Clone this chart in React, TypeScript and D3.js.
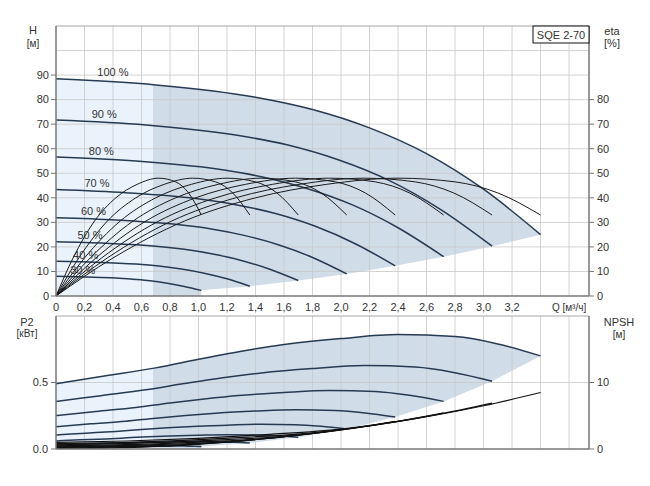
import React from "react";
import * as d3 from "d3";

type Pt = [number, number];

// ---- axis ticks ----
const qTickValues = [0, 0.2, 0.4, 0.6, 0.8, 1.0, 1.2, 1.4, 1.6, 1.8, 2.0, 2.2, 2.4, 2.6, 2.8, 3.0, 3.2];
const qTickLabels = ["0", "0,2", "0,4", "0,6", "0,8", "1,0", "1,2", "1,4", "1,6", "1,8", "2,0", "2,2", "2,4", "2,6", "2,8", "3,0", "3,2"];
const qGrid = [0.2, 0.4, 0.6, 0.8, 1.0, 1.2, 1.4, 1.6, 1.8, 2.0, 2.2, 2.4, 2.6, 2.8, 3.0, 3.2, 3.4, 3.6];
const hTicks = [0, 10, 20, 30, 40, 50, 60, 70, 80, 90];
const hGrid = [10, 20, 30, 40, 50, 60, 70, 80, 90, 100];
const etaTicks = [0, 10, 20, 30, 40, 50, 60, 70, 80];
const p2Ticks = [0, 0.5];
const p2TickLabels = ["0.0", "0.5"];
const npshTicks = [0, 10];

// ---- speed curves (30 % ... 100 %) ----
const speedLabels = ["30 %", "40 %", "50 %", "60 %", "70 %", "80 %", "90 %", "100 %"];
const labelQ = [0.1, 0.12, 0.15, 0.175, 0.2, 0.23, 0.25, 0.29];
const shadeSplitQ = 0.68;

const headCurves: Pt[][] = [
  [[0, 8.0], [0.21, 7.7], [0.42, 7.3], [0.54, 6.8], [0.66, 6.2], [0.78, 5.2], [0.9, 3.9], [1.02, 2.3]],
  [[0, 14.2], [0.28, 13.8], [0.56, 13.0], [0.72, 12.2], [0.88, 11.0], [1.04, 9.3], [1.2, 7.0], [1.36, 4.0]],
  [[0, 22.1], [0.35, 21.5], [0.7, 20.3], [0.9, 19.0], [1.1, 17.1], [1.3, 14.5], [1.5, 10.9], [1.7, 6.3]],
  [[0, 31.9], [0.42, 31.0], [0.84, 29.2], [1.08, 27.4], [1.32, 24.7], [1.56, 20.9], [1.8, 15.7], [2.04, 9.0]],
  [[0, 43.4], [0.49, 42.1], [0.98, 39.7], [1.26, 37.2], [1.54, 33.6], [1.82, 28.4], [2.1, 21.3], [2.38, 12.3]],
  [[0, 56.6], [0.56, 55.0], [1.12, 51.8], [1.44, 48.6], [1.76, 43.8], [2.08, 37.1], [2.4, 27.8], [2.72, 16.0]],
  [[0, 71.7], [0.63, 69.7], [1.26, 65.6], [1.62, 61.6], [1.98, 55.5], [2.34, 47.0], [2.7, 35.2], [3.06, 20.3]],
  [[0, 88.5], [0.7, 86.0], [1.4, 81.0], [1.8, 76.0], [2.2, 68.5], [2.6, 58.0], [3.0, 43.5], [3.4, 25.0]],
];

const etaValues = [0, 15.5, 30.5, 40, 45.5, 48, 46.5, 42, 33];
const etaQ: number[][] = [
  [0, 0.12, 0.27, 0.42, 0.57, 0.72, 0.84, 0.93, 1.02],
  [0, 0.16, 0.36, 0.56, 0.76, 0.96, 1.12, 1.24, 1.36],
  [0, 0.2, 0.45, 0.7, 0.95, 1.2, 1.4, 1.55, 1.7],
  [0, 0.24, 0.54, 0.84, 1.14, 1.44, 1.68, 1.86, 2.04],
  [0, 0.28, 0.63, 0.98, 1.33, 1.68, 1.96, 2.17, 2.38],
  [0, 0.32, 0.72, 1.12, 1.52, 1.92, 2.24, 2.48, 2.72],
  [0, 0.36, 0.81, 1.26, 1.71, 2.16, 2.52, 2.79, 3.06],
  [0, 0.4, 0.9, 1.4, 1.9, 2.4, 2.8, 3.1, 3.4],
];

const p2Curves: Pt[][] = [
  [[0, 0.013], [0.105, 0.015], [0.21, 0.016], [0.3, 0.018], [0.39, 0.02], [0.48, 0.021], [0.6, 0.022], [0.72, 0.023], [0.84, 0.023], [0.93, 0.021], [1.02, 0.019]],
  [[0, 0.031], [0.14, 0.035], [0.28, 0.039], [0.4, 0.043], [0.52, 0.047], [0.64, 0.05], [0.8, 0.053], [0.96, 0.055], [1.12, 0.054], [1.24, 0.051], [1.36, 0.045]],
  [[0, 0.061], [0.175, 0.069], [0.35, 0.076], [0.5, 0.084], [0.65, 0.092], [0.8, 0.098], [1.0, 0.104], [1.2, 0.108], [1.4, 0.106], [1.55, 0.099], [1.7, 0.088]],
  [[0, 0.106], [0.21, 0.119], [0.42, 0.132], [0.6, 0.146], [0.78, 0.159], [0.96, 0.17], [1.2, 0.179], [1.44, 0.186], [1.68, 0.183], [1.86, 0.171], [2.04, 0.151]],
  [[0, 0.168], [0.245, 0.189], [0.49, 0.209], [0.7, 0.232], [0.91, 0.252], [1.12, 0.269], [1.4, 0.285], [1.68, 0.295], [1.96, 0.29], [2.17, 0.271], [2.38, 0.24]],
  [[0, 0.251], [0.28, 0.282], [0.56, 0.312], [0.8, 0.346], [1.04, 0.376], [1.28, 0.402], [1.6, 0.425], [1.92, 0.44], [2.24, 0.433], [2.48, 0.404], [2.72, 0.358]],
  [[0, 0.357], [0.315, 0.401], [0.63, 0.445], [0.9, 0.492], [1.17, 0.536], [1.44, 0.572], [1.8, 0.605], [2.16, 0.627], [2.52, 0.616], [2.79, 0.576], [3.06, 0.51]],
  [[0, 0.49], [0.35, 0.55], [0.7, 0.61], [1.0, 0.675], [1.3, 0.735], [1.6, 0.785], [2.0, 0.83], [2.4, 0.86], [2.8, 0.845], [3.1, 0.79], [3.4, 0.7]],
];

const npshCurves: Pt[][] = [
  [[0, 0.09], [0.15, 0.11], [0.3, 0.14], [0.45, 0.2], [0.6, 0.27], [0.75, 0.41], [0.9, 0.59], [1.02, 0.77]],
  [[0, 0.16], [0.2, 0.19], [0.4, 0.26], [0.6, 0.35], [0.8, 0.48], [1.0, 0.72], [1.2, 1.04], [1.36, 1.36]],
  [[0, 0.25], [0.25, 0.3], [0.5, 0.4], [0.75, 0.55], [1.0, 0.75], [1.25, 1.13], [1.5, 1.63], [1.7, 2.13]],
  [[0, 0.36], [0.3, 0.43], [0.6, 0.58], [0.9, 0.79], [1.2, 1.08], [1.5, 1.62], [1.8, 2.34], [2.04, 3.06]],
  [[0, 0.49], [0.35, 0.59], [0.7, 0.78], [1.05, 1.08], [1.4, 1.47], [1.75, 2.21], [2.1, 3.19], [2.38, 4.17]],
  [[0, 0.64], [0.4, 0.77], [0.8, 1.02], [1.2, 1.41], [1.6, 1.92], [2.0, 2.88], [2.4, 4.16], [2.72, 5.44]],
  [[0, 0.81], [0.45, 0.97], [0.9, 1.3], [1.35, 1.78], [1.8, 2.43], [2.25, 3.65], [2.7, 5.27], [3.06, 6.89]],
  [[0, 1.0], [0.5, 1.2], [1.0, 1.6], [1.5, 2.2], [2.0, 3.0], [2.5, 4.5], [3.0, 6.5], [3.4, 8.5]],
];

const FONT = "'Liberation Sans', Arial, sans-serif";
const TXT = "#333";

export default function App() {
  const x = d3.scaleLinear().domain([0, 3.74]).range([56, 589]);
  const yH = d3.scaleLinear().domain([0, 110]).range([296, 26]);
  const yP = d3.scaleLinear().domain([0, 1]).range([449, 316]);
  const yN = d3.scaleLinear().domain([0, 20]).range([449, 316]);

  const lineH = d3.line<Pt>().x((d) => x(d[0])).y((d) => yH(d[1])).curve(d3.curveMonotoneX);
  const lineP = d3.line<Pt>().x((d) => x(d[0])).y((d) => yP(d[1])).curve(d3.curveMonotoneX);
  const lineN = d3.line<Pt>().x((d) => x(d[0])).y((d) => yN(d[1])).curve(d3.curveMonotoneX);

  const areaPath = (curves: Pt[][], line: d3.Line<Pt>, y: d3.ScaleLinear<number, number>) => {
    const top = curves[curves.length - 1];
    let p = line(top) || "";
    const ends = curves.map((c) => c[c.length - 1]).reverse();
    ends.forEach((e) => {
      p += `L${x(e[0])},${y(e[1])}`;
    });
    const firstEnd = curves[0][curves[0].length - 1];
    p += `L${x(firstEnd[0])},${y(0)}L${x(0)},${y(0)}Z`;
    return p;
  };

  const topArea = areaPath(headCurves, lineH, yH);
  const botArea = areaPath(p2Curves, lineP, yP);

  const xL = x(0);
  const xR = x(3.74);
  const xS = x(shadeSplitQ);

  return (
    <svg width={650} height={486} style={{ position: "absolute", left: 0, top: 0, background: "#fff" }} fontFamily={FONT}>
      <defs>
        <clipPath id="clipLight">
          <rect x={xL} y={0} width={xS - xL} height={486} />
        </clipPath>
        <clipPath id="clipDark">
          <rect x={xS} y={0} width={xR - xS} height={486} />
        </clipPath>
      </defs>

      {/* ===== TOP CHART ===== */}
      <path d={topArea} fill="#eaf3fc" clipPath="url(#clipLight)" />
      <path d={topArea} fill="#d1dce9" clipPath="url(#clipDark)" />
      {qGrid.map((q) => (
        <line key={"vg" + q} x1={x(q)} x2={x(q)} y1={yH(110)} y2={yH(0)} stroke="#c8c8c8" strokeOpacity={0.8} />
      ))}
      {hGrid.map((h) => (
        <line key={"hg" + h} x1={xL} x2={xR} y1={yH(h)} y2={yH(h)} stroke="#c8c8c8" strokeOpacity={0.8} />
      ))}
      <line x1={xL} x2={xR} y1={yH(110)} y2={yH(110)} stroke="#a8a8a8" />

      {headCurves.map((c, i) => (
        <path key={"h" + i} d={lineH(c) || ""} fill="none" stroke="#263a52" strokeWidth={1.5} />
      ))}
      {etaQ.map((qs, i) => (
        <path
          key={"e" + i}
          d={lineH(qs.map((q, j) => [q, etaValues[j]] as Pt)) || ""}
          fill="none"
          stroke="#1a1a1a"
          strokeWidth={1}
        />
      ))}
      {speedLabels.map((s, i) => (
        <text key={"l" + s} x={x(labelQ[i])} y={yH(headCurves[i][0][1]) - 2.5} fontSize={11} fill={TXT}>
          {s}
        </text>
      ))}

      {/* axes top */}
      <line x1={xL} x2={xL} y1={yH(110)} y2={yH(0)} stroke="#777" strokeWidth={1.5} />
      <line x1={xR} x2={xR} y1={yH(110)} y2={yH(0)} stroke="#777" strokeWidth={1.5} />
      <line x1={xL} x2={xR} y1={yH(0)} y2={yH(0)} stroke="#777" strokeWidth={1.5} />
      {hTicks.map((h) => (
        <g key={"ht" + h}>
          <line x1={xL - 5} x2={xL} y1={yH(h)} y2={yH(h)} stroke="#777" />
          <text x={xL - 7} y={yH(h)} dy="0.35em" textAnchor="end" fontSize={11} fill={TXT}>
            {h}
          </text>
        </g>
      ))}
      {etaTicks.map((h) => (
        <g key={"et" + h}>
          <line x1={xR} x2={xR + 5} y1={yH(h)} y2={yH(h)} stroke="#777" />
          <text x={xR + 8} y={yH(h)} dy="0.35em" textAnchor="start" fontSize={11} fill={TXT}>
            {h}
          </text>
        </g>
      ))}
      {qTickValues.map((q, i) => (
        <text key={"qt" + q} x={x(q)} y={307} dy="0.35em" textAnchor="middle" fontSize={11} fill={TXT}>
          {qTickLabels[i]}
        </text>
      ))}
      <text x={x(3.6)} y={307} dy="0.35em" textAnchor="middle" fontSize={10} fill={TXT}>
        Q [м³/ч]
      </text>
      <text x={33} y={34} textAnchor="middle" fontSize={11} fill={TXT}>H</text>
      <text x={33} y={47} textAnchor="middle" fontSize={10} fill={TXT}>[м]</text>
      <text x={612} y={35} textAnchor="middle" fontSize={11} fill={TXT}>eta</text>
      <text x={612} y={47} textAnchor="middle" fontSize={11} fill={TXT}>[%]</text>

      <rect x={533} y={26} width={xR - 533} height={17} fill="#fff" stroke="#111" strokeWidth={1} />
      <text x={(533 + xR) / 2} y={38.5} textAnchor="middle" fontSize={11} fill={TXT}>SQE 2-70</text>

      {/* ===== BOTTOM CHART ===== */}
      <path d={botArea} fill="#eaf3fc" clipPath="url(#clipLight)" />
      <path d={botArea} fill="#d1dce9" clipPath="url(#clipDark)" />
      {qGrid.map((q) => (
        <line key={"vg2" + q} x1={x(q)} x2={x(q)} y1={yP(1)} y2={yP(0)} stroke="#c8c8c8" strokeOpacity={0.8} />
      ))}
      <line x1={xL} x2={xR} y1={yP(0.5)} y2={yP(0.5)} stroke="#c8c8c8" strokeOpacity={0.8} />
      <line x1={xL} x2={xR} y1={yP(1)} y2={yP(1)} stroke="#a8a8a8" />

      {p2Curves.map((c, i) => (
        <path key={"p" + i} d={lineP(c) || ""} fill="none" stroke="#263a52" strokeWidth={1.5} />
      ))}
      {npshCurves.map((c, i) => (
        <path key={"n" + i} d={lineN(c) || ""} fill="none" stroke="#111" strokeWidth={1.2} />
      ))}

      <line x1={xL} x2={xL} y1={yP(1)} y2={yP(0)} stroke="#777" strokeWidth={1.5} />
      <line x1={xR} x2={xR} y1={yP(1)} y2={yP(0)} stroke="#777" strokeWidth={1.5} />
      <line x1={xL} x2={xR} y1={yP(0)} y2={yP(0)} stroke="#777" strokeWidth={1.5} />
      {p2Ticks.map((p, i) => (
        <g key={"pt" + p}>
          <line x1={xL - 5} x2={xL} y1={yP(p)} y2={yP(p)} stroke="#777" />
          <text x={xL - 8} y={yP(p)} dy="0.35em" textAnchor="end" fontSize={11} fill={TXT}>
            {p2TickLabels[i]}
          </text>
        </g>
      ))}
      {npshTicks.map((n) => (
        <g key={"nt" + n}>
          <line x1={xR} x2={xR + 5} y1={yN(n)} y2={yN(n)} stroke="#777" />
          <text x={xR + 8} y={yN(n)} dy="0.35em" textAnchor="start" fontSize={11} fill={TXT}>
            {n}
          </text>
        </g>
      ))}
      <text x={27} y={326} textAnchor="middle" fontSize={11} fill={TXT}>P2</text>
      <text x={27} y={337} textAnchor="middle" fontSize={10} fill={TXT}>[кВт]</text>
      <text x={619} y={326} textAnchor="middle" fontSize={11} fill={TXT}>NPSH</text>
      <text x={619} y={338} textAnchor="middle" fontSize={10} fill={TXT}>[м]</text>
    </svg>
  );
}
